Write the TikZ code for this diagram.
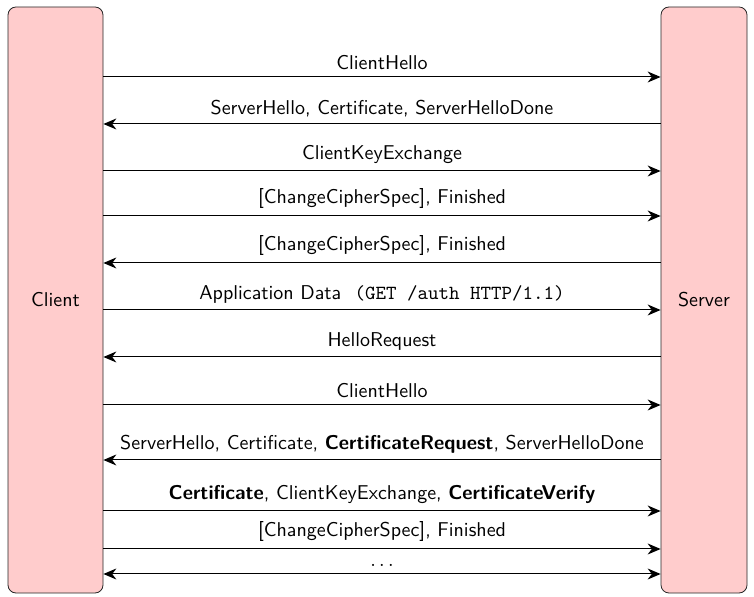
\documentclass[tikz,border=0pt]{standalone}
\usetikzlibrary{arrows.meta}
\begin{document}
\begin{tikzpicture}[x=0.5pt,y=-0.5pt,
  party/.style={draw=black!85, fill=red!20, rounded corners=4pt, font=\sffamily, inner sep=0pt},
  msg/.style={-{Stealth[length=6.5pt,width=5.5pt]}, line width=0.5pt},
  lbl/.style={above, font=\sffamily, inner sep=3.3pt}]
\useasboundingbox (0,0) rectangle (754,597);
\node[party, minimum width=47.5pt, minimum height=293pt] (client) at (55.5,300) {\raisebox{-2pt}{Client}};
\node[party, minimum width=43pt, minimum height=293pt] (server) at (704,300) {\raisebox{-2pt}{Server}};
\draw[msg] (client.east |- 0,77) -- node[lbl] {ClientHello} (server.west |- 0,77);
\draw[msg] (server.west |- 0,124) -- node[lbl] {ServerHello, Certificate, ServerHelloDone} (client.east |- 0,124);
\draw[msg] (client.east |- 0,171) -- node[lbl] {ClientKeyExchange} (server.west |- 0,171);
\draw[msg] (client.east |- 0,216) -- node[lbl] {[ChangeCipherSpec], Finished} (server.west |- 0,216);
\draw[msg] (server.west |- 0,263) -- node[lbl] {[ChangeCipherSpec], Finished} (client.east |- 0,263);
\draw[msg] (client.east |- 0,310) -- node[lbl] {Application Data\ \ \texttt{(GET /auth HTTP/1.1)}} (server.west |- 0,310);
\draw[msg] (server.west |- 0,357) -- node[lbl] {HelloRequest} (client.east |- 0,357);
\draw[msg] (client.east |- 0,405) -- node[lbl] {ClientHello} (server.west |- 0,405);
\draw[msg] (server.west |- 0,460) -- node[lbl] {ServerHello, Certificate, \textbf{CertificateRequest}, ServerHelloDone} (client.east |- 0,460);
\draw[msg] (client.east |- 0,511) -- node[lbl] {\textbf{Certificate}, ClientKeyExchange, \textbf{CertificateVerify}} (server.west |- 0,511);
\draw[msg] (client.east |- 0,549) -- node[lbl] {[ChangeCipherSpec], Finished} (server.west |- 0,549);
\draw[msg, {Stealth[length=6.5pt,width=5.5pt]}-{Stealth[length=6.5pt,width=5.5pt]}] (client.east |- 0,574) -- node[lbl] {$\ldots$} (server.west |- 0,574);
\end{tikzpicture}
\end{document}
